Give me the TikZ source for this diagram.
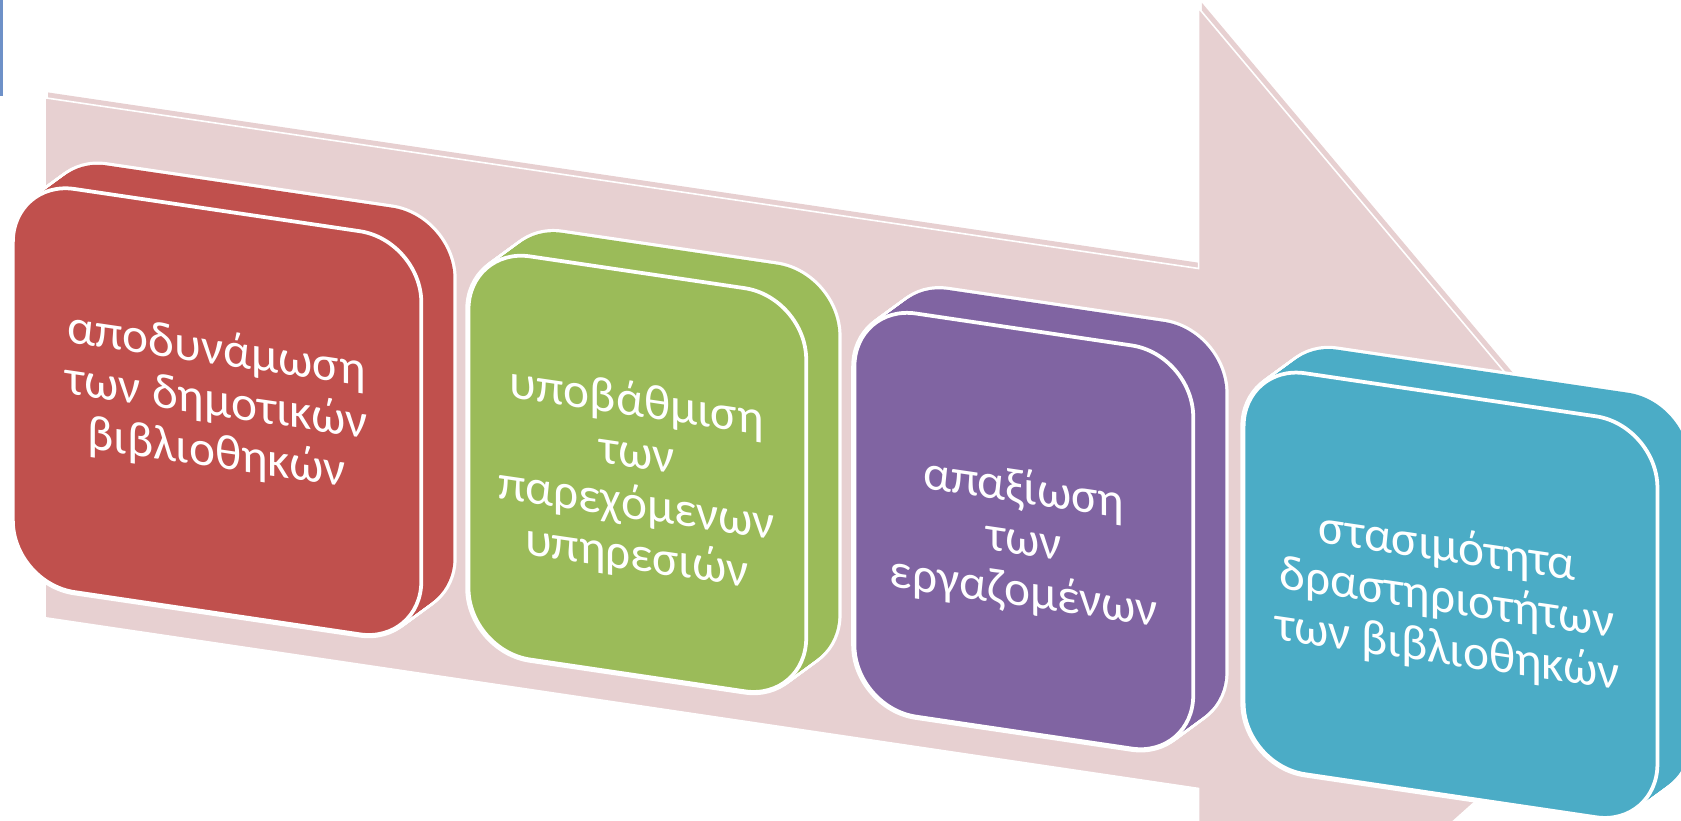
\documentclass[tikz,border=0pt]{standalone}
\usepackage{fontspec}
\setmainfont{Carlito}
\definecolor{arrowpink}{RGB}{231,208,209}
\definecolor{cred}{RGB}{192,80,77}
\definecolor{cgreen}{RGB}{155,187,89}
\definecolor{cpurple}{RGB}{128,100,162}
\definecolor{cblue}{RGB}{75,172,198}
\definecolor{edgeblue}{RGB}{110,145,200}
\newcommand\extrudedbox[5]{% x1,y1,x2,y2,colour
  \foreach \t in {0,0.05,...,1.001}{
    \draw[white,line width=6,rounded corners=58]
      ({#1+30*\t},{#2-26.4*\t}) -- ({#3+30*\t},{#2-26.4*\t}) -- ({#3+30*\t},{#4-26.4*\t}) -- ({#1+30*\t},{#4-26.4*\t}) -- cycle;
  }
  \foreach \t in {0,0.05,...,1.001}{
    \fill[#5,rounded corners=58]
      ({#1+30*\t},{#2-26.4*\t}) -- ({#3+30*\t},{#2-26.4*\t}) -- ({#3+30*\t},{#4-26.4*\t}) -- ({#1+30*\t},{#4-26.4*\t}) -- cycle;
  }
  \draw[white,line width=3.5,fill=#5,rounded corners=58]
    (#1,#2) -- (#3,#2) -- (#3,#4) -- (#1,#4) -- cycle;
}
\begin{document}
\begin{tikzpicture}[x=1pt,y=-1pt,
  boxtext/.style={text=white, align=center, inner sep=0pt,
    font=\fontsize{46}{48}\selectfont, transform shape}]
\useasboundingbox (0,0) rectangle (1568,765);
\clip (0,0) rectangle (1568,765);
\fill[edgeblue] (0,0) rectangle (3,90);
\begin{scope}[yslant=-0.148]
  % arrow: back copy then front face
  \fill[arrowpink] (45,79.6) -- (1121,79.6) -- (1121,-163.4) -- (1587,322.1) -- (1121,807.6) -- (1121,564.6) -- (45,564.6) -- cycle;
  \draw[white,line width=1.5,fill=arrowpink] (42,85) -- (1118,85) -- (1118,-158) -- (1584,327.5) -- (1118,813) -- (1118,570) -- (42,570) -- cycle;
  % boxes
  \extrudedbox{12}{166}{393}{542}{cred}
  \extrudedbox{437}{166}{752}{542}{cgreen}
  \extrudedbox{797}{166}{1113}{542}{cpurple}
  \extrudedbox{1160}{168}{1546}{542}{cblue}
  \node[boxtext] (t1) at (202,346) {αποδυνάμωση\\των δημοτικών\\βιβλιοθηκών};
  \node[boxtext] (t2) at (594,360) {υποβάθμιση\\των\\παρεχόμενων\\υπηρεσιών};
  \node[boxtext] (t3) at (955,364) {απαξίωση\\των\\εργαζομένων};
  \node[boxtext] (t4) at (1350,360) {στασιμότητα\\δραστηριοτήτων\\των βιβλιοθηκών};
\end{scope}
\end{tikzpicture}
\end{document}
